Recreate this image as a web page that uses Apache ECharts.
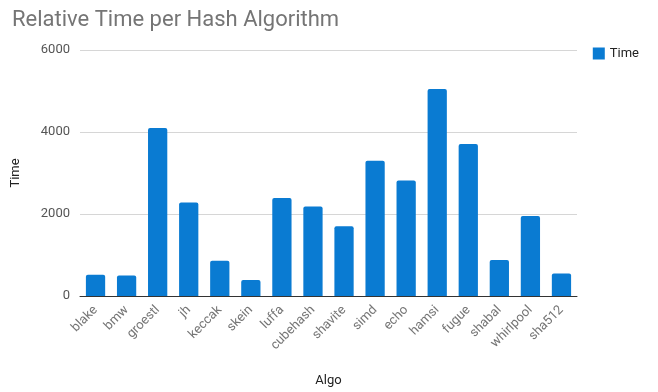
<!DOCTYPE html>
<html><head><meta charset="utf-8">
<script src="https://cdn.jsdelivr.net/npm/echarts@6/dist/echarts.min.js"></script>
<style>html,body{margin:0;padding:0;background:#fff}#c{width:658px;height:392px}</style>
</head><body><div id="c"></div>
<script>
var categories = ['blake','bmw','groestl','jh','keccak','skein','luffa','cubehash','shavite','simd','echo','hamsi','fugue','shabal','whirlpool','sha512'];
var timeValues = [520, 500, 4100, 2280, 860, 390, 2390, 2180, 1700, 3300, 2820, 5050, 3710, 880, 1950, 550];
var yTicks = [0, 2000, 4000, 6000];

var chart = echarts.init(document.getElementById('c'));
chart.setOption({
  animation: false,
  title: {text: 'Relative Time per Hash Algorithm', left: 7, top: 4,
    textStyle: {fontFamily: 'Roboto', fontSize: 22, fontWeight: 'normal', color: '#757575'}},
  legend: {data: ['Time'], right: 14, top: 42, itemWidth: 12, itemHeight: 12, itemGap: 8,
    icon: 'rect', textStyle: {fontFamily: 'Roboto', fontSize: 13, color: '#222'}},
  grid: {left: 80, right: 81, top: 50, bottom: 92, containLabel: false},
  xAxis: {type: 'category', data: categories, name: 'Algo', nameLocation: 'middle', nameGap: 78,
    nameTextStyle: {fontFamily: 'Roboto', fontSize: 13, color: '#222'},
    axisLine: {lineStyle: {color: '#333', width: 1}}, axisTick: {show: false},
    axisLabel: {rotate: 45, interval: 0, fontFamily: 'Roboto', fontSize: 13, color: '#757575', margin: 12,
      padding: [14, 0, 0, 0]}},
  yAxis: {type: 'value', min: yTicks[0], max: yTicks[yTicks.length-1], interval: 2000,
    name: 'Time', nameLocation: 'middle', nameGap: 58,
    nameTextStyle: {fontFamily: 'Roboto', fontSize: 13, color: '#222'},
    axisLine: {show: false}, axisTick: {show: false},
    axisLabel: {fontFamily: 'Roboto', fontSize: 13, color: '#555', margin: 10,
      formatter: function (v) { return String(v); }},
    splitLine: {lineStyle: {color: '#d6d6d6', width: 1}}},
  series: [{name: 'Time', type: 'bar', data: timeValues, barWidth: '62%',
    itemStyle: {color: '#0a7bd2', borderRadius: [2,2,0,0]}}]
});
</script></body></html>
